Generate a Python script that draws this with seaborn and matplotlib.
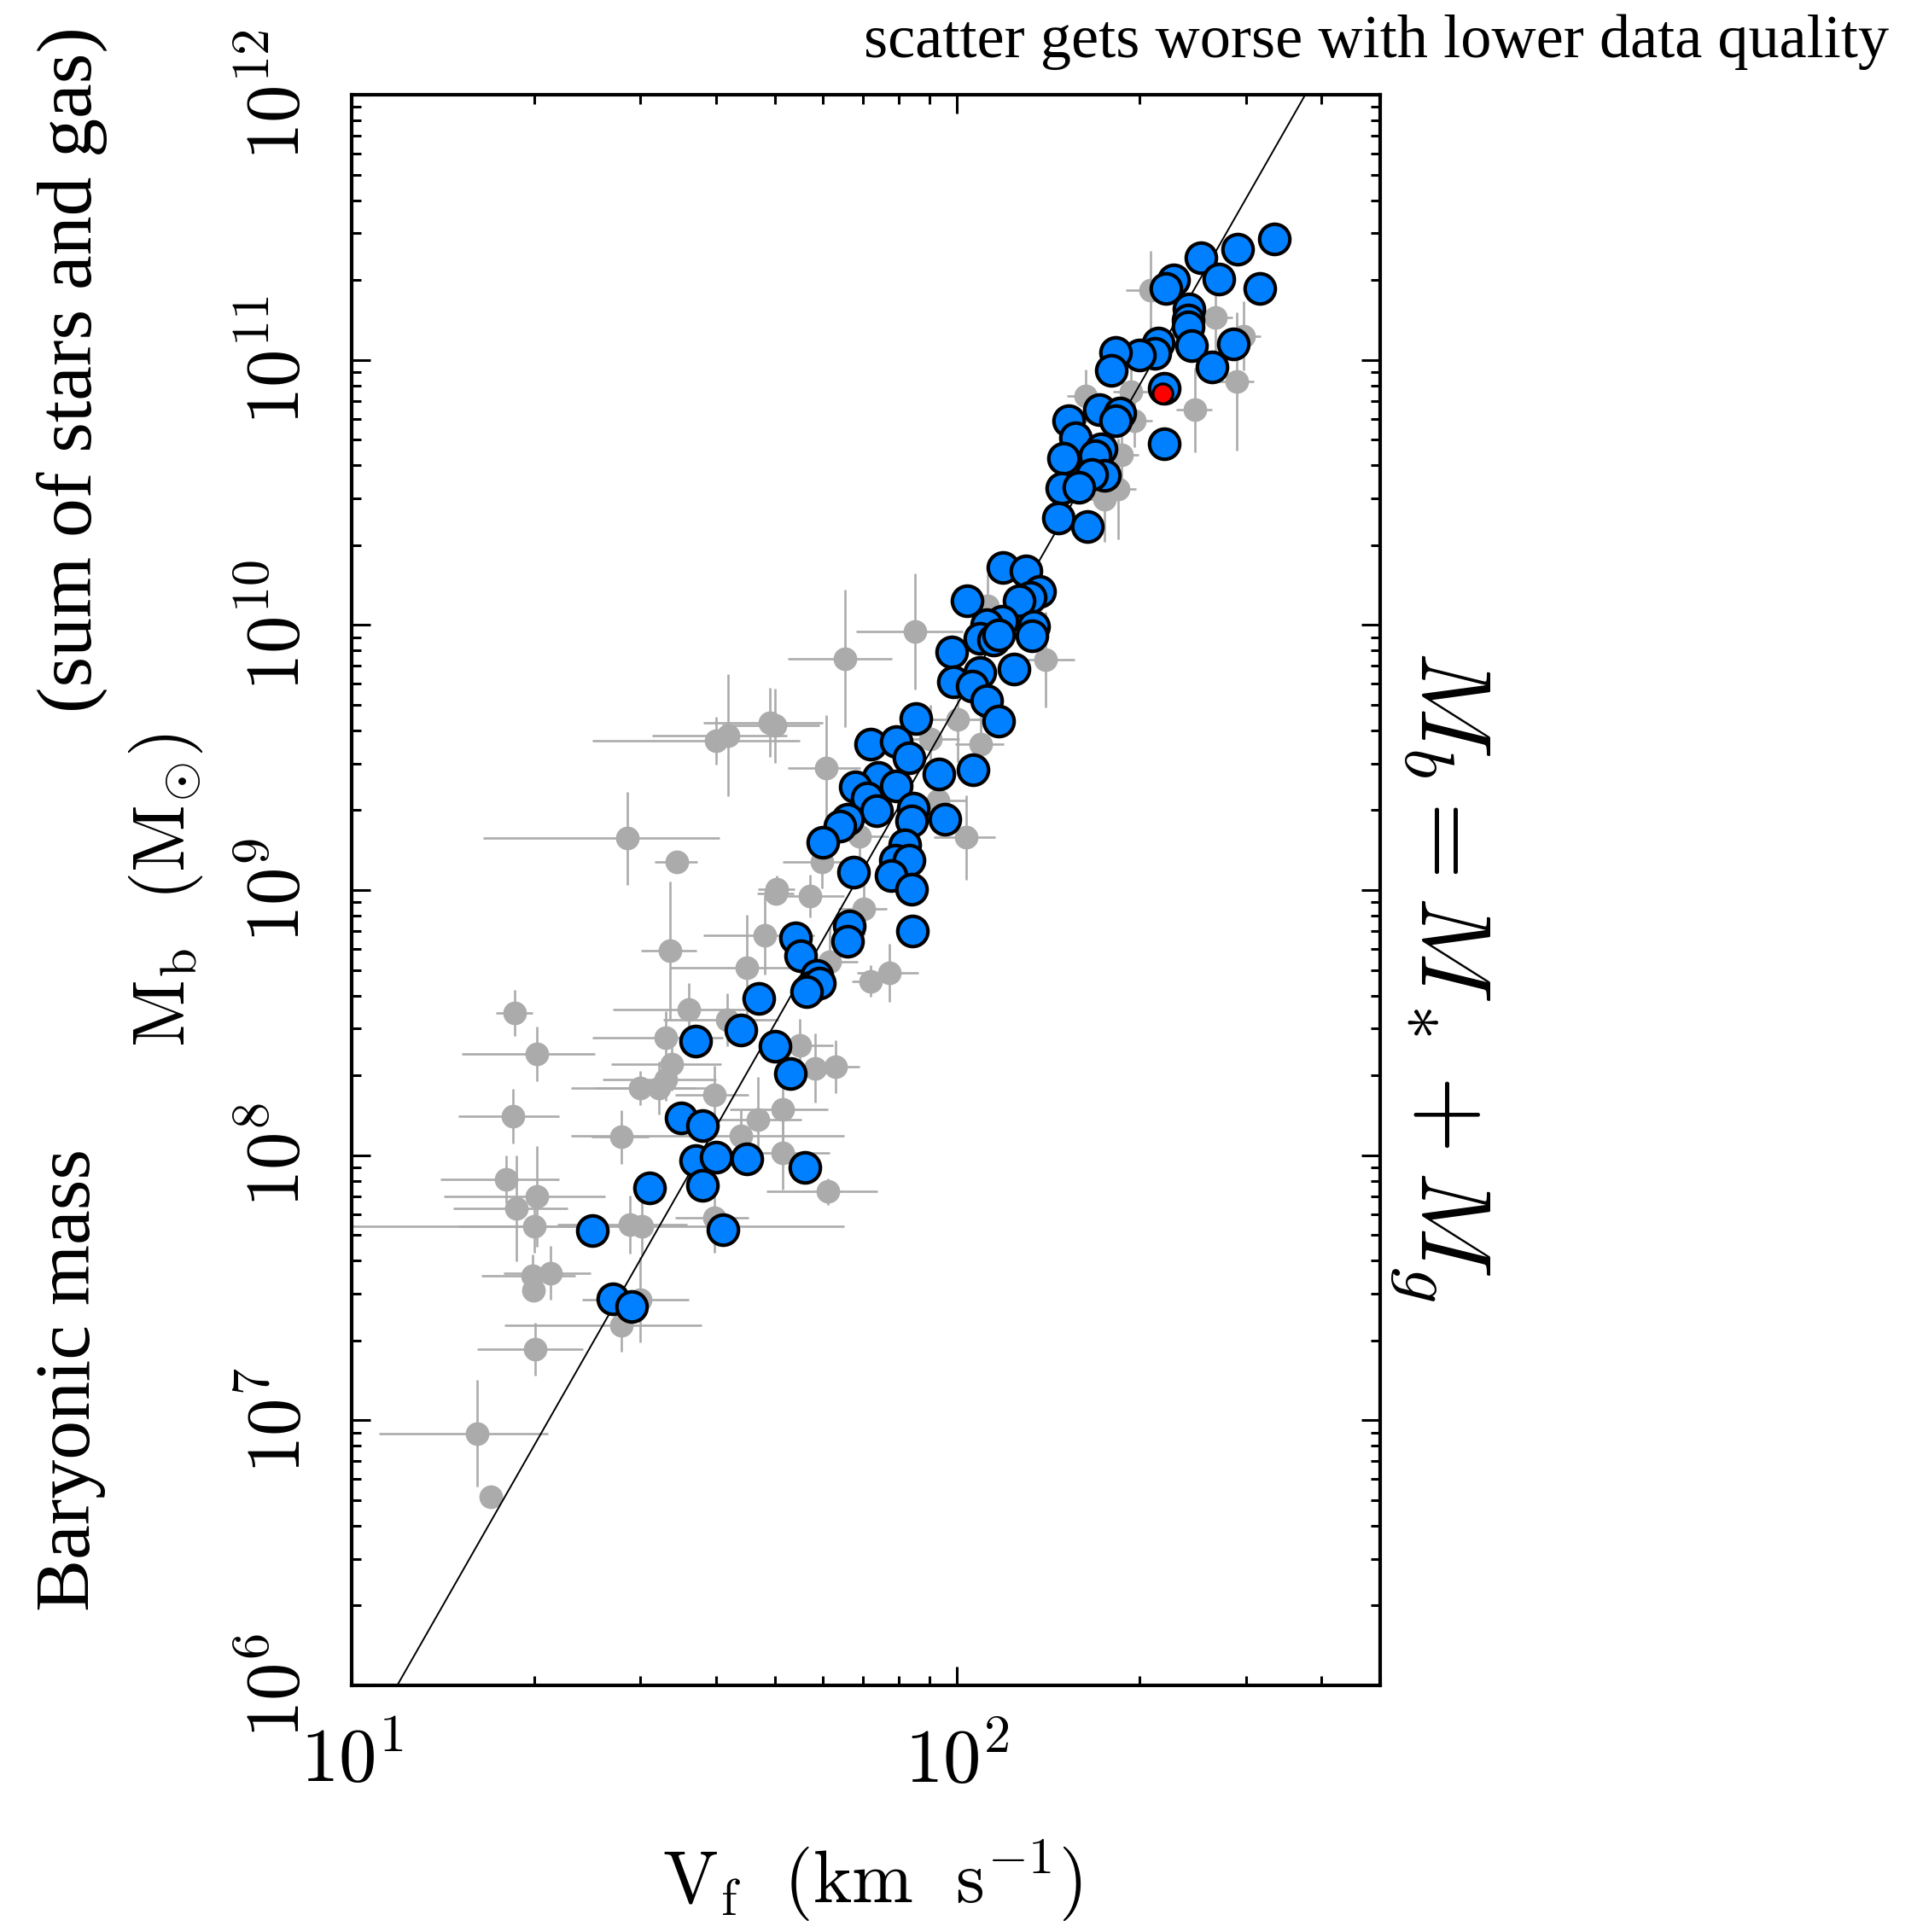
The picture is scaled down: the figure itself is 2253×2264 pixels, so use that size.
import numpy as np
import pandas as pd
import matplotlib
matplotlib.use("Agg")
import matplotlib.pyplot as plt
import seaborn as sns
from matplotlib.ticker import LogLocator, NullFormatter, FuncFormatter, FixedLocator

# ---------------- data ----------------
# high-quality galaxies (blue)
vf_good = [334, 291, 253, 271, 316, 228, 221, 242, 241, 241, 244, 286, 264, 215, 212,
           200, 183, 180, 220, 220, 172, 186, 183, 153, 157, 173, 169, 150, 175, 167,
           149, 159, 147, 164, 119, 130, 137, 132, 126.5, 104, 134, 133, 118.5, 112, 109,
           115, 117, 98, 124, 98.6, 109, 106, 112, 117, 85.6, 72, 79.4, 83.4, 93.4, 106.4,
           74, 68, 79.4, 71, 73.6, 84.8, 84.2, 95.5, 66, 64, 60, 82, 79, 83.4, 67.5,
           77.7, 84, 66.4, 66, 84.3, 54.1, 55.2, 58.7, 57.4, 59.3, 56.5, 47, 44, 37, 50,
           53, 35, 38, 37, 40, 45, 38, 56, 31, 25, 41, 27, 29]
mb_good = [2.86e11, 2.62e11, 2.42e11, 2.02e11, 1.86e11, 2.00e11, 1.86e11, 1.56e11, 1.41e11,
           1.33e11, 1.13e11, 1.15e11, 9.4e10, 1.16e11, 1.06e11, 1.04e11, 1.07e11, 9.1e10,
           7.8e10, 4.83e10, 6.5e10, 6.3e10, 5.9e10, 5.9e10, 5.1e10, 4.6e10, 4.35e10, 4.26e10,
           3.67e10, 3.70e10, 3.28e10, 3.31e10, 2.53e10, 2.35e10, 1.65e10, 1.60e10, 1.34e10,
           1.27e10, 1.23e10, 1.23e10, 9.9e9, 9.1e9, 1.03e10, 1.0e10, 8.9e9, 8.8e9, 9.2e9,
           7.9e9, 6.8e9, 6.1e9, 6.6e9, 5.9e9, 5.2e9, 4.34e9, 4.44e9, 3.56e9, 3.63e9, 3.16e9,
           2.75e9, 2.85e9, 2.66e9, 2.46e9, 2.47e9, 2.23e9, 1.99e9, 2.04e9, 1.82e9, 1.85e9,
           1.85e9, 1.74e9, 1.51e9, 1.48e9, 1.30e9, 1.30e9, 1.17e9, 1.135e9, 1.01e9, 7.3e8,
           6.4e8, 7.0e8, 6.6e8, 5.65e8, 4.76e8, 4.31e8, 4.46e8, 4.15e8, 3.91e8, 2.97e8,
           2.70e8, 2.57e8, 2.03e8, 1.38e8, 1.29e8, 9.55e7, 9.8e7, 9.7e7, 7.7e7, 9.0e7,
           7.55e7, 5.2e7, 5.25e7, 2.88e7, 2.68e7]

# highlighted galaxy (red)
vf_red = [218.5]
mb_red = [7.47e10]

# lower-quality galaxies (grey) with uncertainties
vf_poor = [16.1, 17.0, 18.6, 20.2, 18.5, 27.9, 18.0, 20.2, 18.7, 20.0, 19.9, 21.3, 19.95,
           20.1, 27.9, 30.0, 28.85, 30.15, 30.0, 32.2, 33.0, 33.8, 33.0, 36.0, 41.7, 39.7,
           46.9, 44.0, 51.6, 51.5, 55.0, 58.3, 63.1, 61.1, 39.7, 40.0, 41.85, 49.1, 50.1,
           28.5, 34.5, 50.2, 57.1, 48.1, 33.6, 45.0, 60.9, 85.2, 65.3, 100.2, 90.4, 109.3,
           140.2, 103.5, 50.4, 59.9, 69.0, 92.9, 70.1, 72.0, 77.3, 61.6, 186.7, 184.7,
           175.0, 196, 163, 194, 247, 112.3, 209, 267, 297.5, 289.5]
mb_poor = [8.93e6, 5.14e6, 3.45e8, 2.41e8, 1.40e8, 1.17e8, 8.1e7, 7.0e7, 6.3e7, 5.4e7,
           3.5e7, 3.6e7, 3.1e7, 1.85e7, 2.28e7, 2.85e7, 5.48e7, 5.41e7, 1.79e8, 1.79e8,
           1.93e8, 2.21e8, 2.78e8, 3.54e8, 3.24e8, 1.69e8, 1.36e8, 1.18e8, 1.49e8, 1.02e8,
           2.6e8, 2.13e8, 2.16e8, 7.3e7, 5.8e7, 3.67e9, 3.83e9, 4.29e9, 4.18e9, 1.57e9,
           1.28e9, 9.7e8, 9.5e8, 6.76e8, 5.9e8, 5.1e8, 2.89e9, 9.45e9, 7.47e9, 4.4e9, 3.7e9,
           3.56e9, 7.38e9, 1.58e9, 1.01e9, 1.28e9, 1.6e9, 2.17e9, 8.5e8, 4.53e8, 4.88e8,
           5.38e8, 4.37e10, 3.25e10, 2.98e10, 5.9e10, 7.3e10, 7.6e10, 6.48e10, 1.18e10,
           1.83e11, 1.45e11, 1.23e11, 8.3e10]
vf_err_poor = [5, 0.5, 1.3, 5, 3.5, 3, 4, 6, 4, 5, 3.5, 3.5, 0.7, 4, 10, 6, 7, 35, 7, 7,
               7, 7, 8, 9, 9, 5.5, 8.5, 21, 9.5, 10, 7.5, 6.7, 5.8, 12.7, 5.5, 15, 10.5,
               11, 9.2, 12, 2.8, 3.5, 7.9, 10, 3.5, 11.4, 8.4, 17, 12.8, 11.5, 10.4, 10,
               16, 12, 3.5, 8.3, 8, 10.7, 6.5, 5, 9, 7, 13, 13, 12, 14, 11, 13, 17, 8,
               19, 18, 20, 20]
mb_dex_err_poor = [0.2, 0.02, 0.087, 0.103, 0.103, 0.1, 0.09, 0.19, 0.2, 0.1, 0.08, 0.1,
                   0.03, 0.1, 0.1, 0.16, 0.11, 0.11, 0.065, 0.1, 0.08, 0.1, 0.1, 0.1, 0.1,
                   0.11, 0.16, 0.1, 0.16, 0.14, 0.1, 0.13, 0.1, 0.05, 0.13, 0.09, 0.23,
                   0.13, 0.14, 0.175, 0.03, 0.03, 0.08, 0.15, 0.26, 0.2, 0.2, 0.22, 0.26,
                   0.16, 0.13, 0.15, 0.18, 0.16, 0.05, 0.1, 0.12, 0.12, 0.1, 0.06, 0.11,
                   0.13, 0.13, 0.19, 0.16, 0.1, 0.1, 0.1, 0.16, 0.12, 0.15, 0.13, 0.13, 0.26]

# baryonic Tully-Fisher relation  M = A * V^4
fit_norm = 50.0
fit_slope = 4.0
x_limits = (10, 500)
y_limits = (1e6, 1e12)
x_major_ticks = [10, 100]
y_major_ticks = [1e6, 1e7, 1e8, 1e9, 1e10, 1e11, 1e12]

# ---------------- style ----------------
sns.set_theme(style="ticks")
plt.rcParams['font.family'] = ['DejaVu Serif']
plt.rcParams['mathtext.fontset'] = 'cm'
for key in ('text.color', 'axes.labelcolor', 'xtick.color', 'ytick.color',
            'axes.edgecolor'):
    plt.rcParams[key] = 'black'

fig = plt.figure(figsize=(22.53, 22.64), dpi=100)
ax = fig.add_axes([0.18287, 0.12765, 0.53484, 0.82332])
ax.set_xscale('log')
ax.set_yscale('log')

good = pd.DataFrame({'vf': vf_good, 'mb': mb_good})
poor = pd.DataFrame({'vf': vf_poor, 'mb': mb_poor,
                     'verr': vf_err_poor, 'mdex': mb_dex_err_poor})
red = pd.DataFrame({'vf': vf_red, 'mb': mb_red})

grey = '#ababab'
v = poor['vf'].to_numpy()
m = poor['mb'].to_numpy()
ve = poor['verr'].to_numpy()
md = poor['mdex'].to_numpy()
x_lo = np.minimum(ve, v * 0.999)
x_hi = ve
y_lo = m - m * 10 ** (-md)
y_hi = m * 10 ** md - m
ax.errorbar(v, m, xerr=[x_lo, x_hi], yerr=[y_lo, y_hi], fmt='none',
            ecolor=grey, elinewidth=1.9, capsize=0, zorder=1)
sns.scatterplot(data=poor, x='vf', y='mb', color=grey, s=400, linewidth=0,
                ax=ax, zorder=2, legend=False)

v_line = np.array(x_limits, dtype=float)
ax.plot(v_line, fit_norm * v_line ** fit_slope, color='black', lw=1.4, zorder=3)

sns.scatterplot(data=good, x='vf', y='mb', color='#0080ff', edgecolor='black',
                linewidth=3.0, s=650, ax=ax, zorder=4, legend=False)
sns.scatterplot(data=red, x='vf', y='mb', color='#ff0000', edgecolor='black',
                linewidth=2.4, s=280, ax=ax, zorder=5, legend=False)

ax.set_xlim(*x_limits)
ax.set_ylim(*y_limits)

pow_fmt = FuncFormatter(lambda val, pos: r'$10^{%d}$' % int(round(np.log10(val))))
ax.xaxis.set_major_locator(FixedLocator(x_major_ticks))
ax.yaxis.set_major_locator(FixedLocator(y_major_ticks))
for axis in (ax.xaxis, ax.yaxis):
    axis.set_minor_locator(LogLocator(base=10, subs=np.arange(2, 10), numticks=100))
    axis.set_major_formatter(pow_fmt)
    axis.set_minor_formatter(NullFormatter())

for s in ax.spines.values():
    s.set_linewidth(3)
    s.set_color('black')

ax.tick_params(which='both', direction='in', top=True, right=True, color='black')
ax.tick_params(which='major', length=16, width=2.2, labelsize=64)
ax.tick_params(which='minor', length=8, width=2.2)
ax.tick_params(axis='x', which='major', pad=32)
ax.tick_params(axis='y', which='major', pad=30, labelrotation=90)
for lab in ax.get_yticklabels():
    lab.set_va('center')

ax.set_xlabel(r'$\mathrm{V_f\ \ (km\ \ s^{-1})}$', fontsize=62)
ax.xaxis.set_label_coords(0.506, -0.096)
ax.set_ylabel(r'$\mathrm{M_b\ \ (M_{\odot})}$', fontsize=62)
ax.yaxis.set_label_coords(-0.143, 0.5)

serif = ['Liberation Serif', 'DejaVu Serif']
fig.text(0.9822, 0.9704, 'scatter gets worse with lower data quality',
         ha='right', va='baseline', fontsize=52, family=serif, color='black')
fig.text(0.0466, 0.166, 'Baryonic mass', rotation=90, rotation_mode='anchor',
         ha='left', va='baseline', fontsize=66, family=serif, color='black')
fig.text(0.0475, 0.631, '(sum of stars and gas)', rotation=90, rotation_mode='anchor',
         ha='left', va='baseline', fontsize=66, family=serif, color='black')
fig.text(0.739, 0.495, r'$M_b = M_* + M_g$', rotation=-90, rotation_mode='anchor',
         ha='center', va='baseline', fontsize=84, color='black')

fig.savefig('out.png', dpi=100)
